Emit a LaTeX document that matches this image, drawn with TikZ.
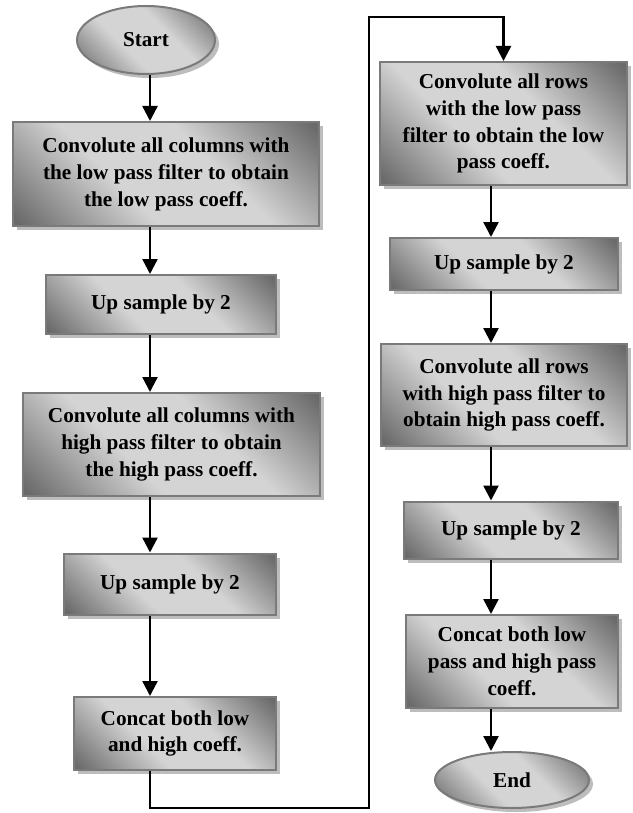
\documentclass[tikz,border=0pt]{standalone}
\usepackage{fontspec}
\setmainfont{Liberation Serif}
\usetikzlibrary{shapes.geometric,shadows,arrows.meta}

\definecolor{shadedark}{HTML}{6A6A6A}
\definecolor{shadelight}{HTML}{D4D4D4}
\definecolor{edgegray}{HTML}{7A7A7A}
\definecolor{shadowgray}{HTML}{BDBDBD}

% diagonal metallic fill: dark corners, broad light band through the middle
\pgfdeclareverticalshading{metalband}{100bp}{%
  color(0bp)=(shadedark); color(16bp)=(shadedark);
  color(40bp)=(shadelight); color(60bp)=(shadelight);
  color(84bp)=(shadedark); color(100bp)=(shadedark)}

\tikzset{
  x=1bp, y=-1bp,
  shadefill/.style={shading=metalband, shading angle=-45},
  boxbase/.style={shadefill, draw=edgegray, line width=2bp,
    drop shadow={shadow xshift=4bp, shadow yshift=-4bp, fill=shadowgray, opacity=1},
    font=\fontsize{21.3}{27}\selectfont\bfseries, align=center, inner sep=0pt},
  procbox/.style={boxbase, rectangle},
  termbox/.style={boxbase, ellipse},
  arr/.style={line width=2.4bp, -{Triangle[length=15bp,width=15bp]}},
}

\begin{document}
\begin{tikzpicture}
\useasboundingbox (0,0) rectangle (633,813);

% left column
\node[termbox, minimum width=138bp, minimum height=68bp] (start) at (146,40) {Start};
\node[procbox, minimum width=306bp, minimum height=104bp] (b1) at (166,174)
  {Convolute all columns with\\the low pass filter to obtain\\the low pass coeff.};
\node[procbox, minimum width=230bp, minimum height=59bp] (b2) at (161,304.5) {Up sample by 2};
\node[procbox, minimum width=297bp, minimum height=103bp] (b3) at (171.5,444.5)
  {Convolute all columns with\\high pass filter to obtain\\the high pass coeff.};
\node[procbox, minimum width=212bp, minimum height=61bp] (b4) at (170,584) {Up sample by 2};
\node[procbox, minimum width=202bp, minimum height=73bp] (b5) at (175,733.5)
  {Concat both low\\and high coeff.};

% right column
\node[procbox, minimum width=247bp, minimum height=123bp] (b6) at (503.5,123.5)
  {Convolute all rows\\with the low pass\\filter to obtain the low\\pass coeff.};
\node[procbox, minimum width=228bp, minimum height=52bp] (b7) at (504,264) {Up sample by 2};
\node[procbox, minimum width=246bp, minimum height=102bp] (b8) at (504,395)
  {Convolute all rows\\with high pass filter to\\obtain high pass coeff.};
\node[procbox, minimum width=214bp, minimum height=57bp] (b9) at (511,530) {Up sample by 2};
\node[procbox, minimum width=212bp, minimum height=93bp] (b10) at (512,661.5)
  {Concat both low\\pass and high pass\\coeff.};
\node[termbox, minimum width=154bp, minimum height=56bp] (end) at (512,780) {End};

% arrow columns and the bends of the long connector
\coordinate (lx) at (150,0);
\coordinate (rx) at (491,0);
\coordinate (bendlow) at (369,808);
\coordinate (bendhigh) at (369,17);

\draw[arr] (start.south -| lx) -- (b1.north -| lx);
\draw[arr] (b1.south -| lx) -- (b2.north -| lx);
\draw[arr] (b2.south -| lx) -- (b3.north -| lx);
\draw[arr] (b3.south -| lx) -- (b4.north -| lx);
\draw[arr] (b4.south -| lx) -- (b5.north -| lx);
\draw[arr] (b5.south -| lx) |- (bendlow) -- (bendhigh) -| (b6.north);
\draw[arr] (b6.south -| rx) -- (b7.north -| rx);
\draw[arr] (b7.south -| rx) -- (b8.north -| rx);
\draw[arr] (b8.south -| rx) -- (b9.north -| rx);
\draw[arr] (b9.south -| rx) -- (b10.north -| rx);
\draw[arr] (b10.south -| rx) -- (end.north -| rx);
\end{tikzpicture}
\end{document}
